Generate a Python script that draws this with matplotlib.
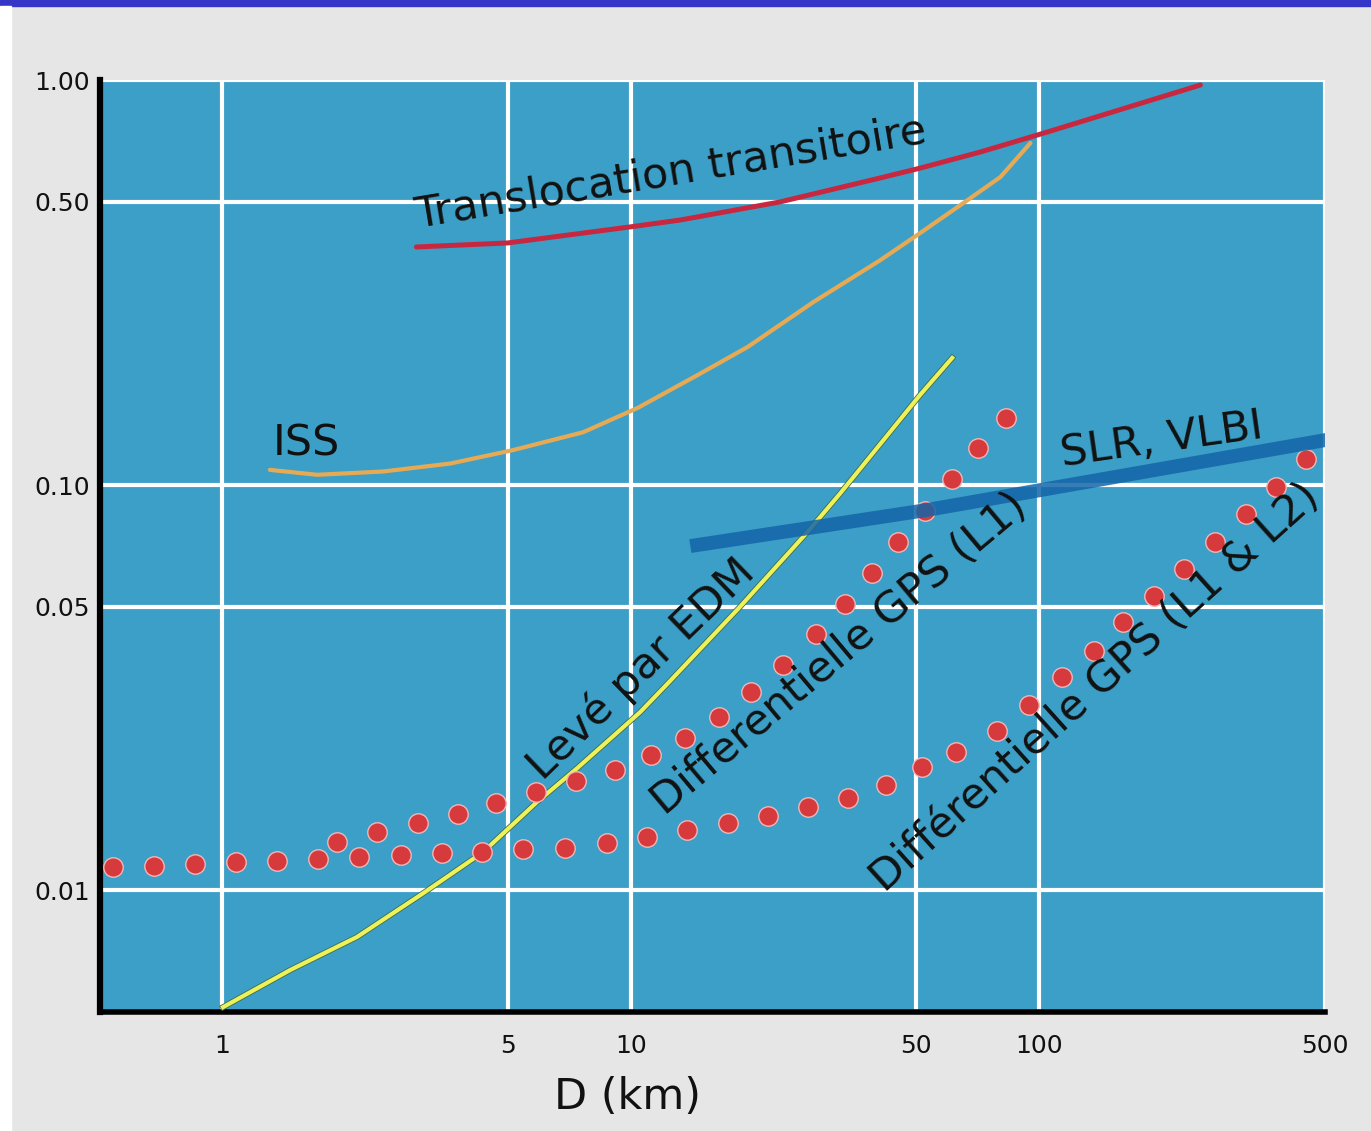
import matplotlib
matplotlib.use("Agg")
import matplotlib.pyplot as plt
import matplotlib.patheffects as pe
from matplotlib.patches import Rectangle
from matplotlib.ticker import FixedLocator, FixedFormatter, NullLocator

# axes ticks
x_ticks = [1, 5, 10, 50, 100, 500]
x_tick_labels = ["1", "5", "10", "50", "100", "500"]
y_ticks = [0.01, 0.05, 0.10, 0.50, 1.00]
y_tick_labels = ["0.01", "0.05", "0.10", "0.50", "1.00"]

# curves (D in km, error in m)
transloc_d = [2.99, 5.0, 10.0, 13.2, 23.2, 40.8, 51.1, 71.7, 104.6, 247.8]
transloc_v = [0.387, 0.396, 0.434, 0.451, 0.500, 0.573, 0.606, 0.664, 0.744, 0.972]

iss_d = [1.31, 1.71, 2.48, 3.62, 5.16, 7.65, 10.4, 14.6, 19.3, 28.0, 40.8, 51.1, 65.2, 80.3, 95.1]
iss_v = [0.109, 0.106, 0.108, 0.113, 0.122, 0.135, 0.155, 0.187, 0.219, 0.283, 0.359, 0.419, 0.497, 0.576, 0.699]

edm_d = [1.006, 1.47, 2.14, 3.11, 4.35, 5.90, 7.40, 10.55, 12.3, 18.5, 27.1, 32.6, 51.1, 61.2]
edm_v = [0.00514, 0.00635, 0.00766, 0.00983, 0.0124, 0.0165, 0.0200, 0.0275, 0.0323, 0.050, 0.0766, 0.0955, 0.167, 0.206]

slr_d = [14.55, 53.2, 498]
slr_v = [0.0711, 0.0868, 0.129]

# differential GPS dots: common flat start, then the two branches
gps_common_d = [0.541, 0.682, 0.859, 1.082, 1.363, 1.718]
gps_common_v = [0.0114, 0.01146, 0.01159, 0.01173, 0.0118, 0.01193]

gps_l1_d = [1.912, 2.395, 3.018, 3.782, 4.686, 5.871, 7.358, 9.165, 11.22, 13.60, 16.47,
            19.72, 23.63, 28.46, 33.50, 39.01, 45.17, 52.60, 61.24, 70.93, 83.05]
gps_l1_v = [0.01314, 0.0139, 0.01463, 0.01541, 0.0164, 0.01746, 0.01858, 0.01978, 0.02154,
            0.02373, 0.02674, 0.03083, 0.03593, 0.04286, 0.05084, 0.06064, 0.07233, 0.08624,
            0.1035, 0.1234, 0.1463]

gps_l1l2_d = [2.165, 2.743, 3.456, 4.329, 5.456, 6.914, 8.761, 10.97, 13.75, 17.33, 21.71,
              27.20, 34.08, 42.22, 51.71, 62.65, 78.94, 94.52, 113.8, 136.3, 160.6, 191.2,
              226.5, 269.7, 321.2, 380.4, 448.1]
gps_l1l2_v = [0.01207, 0.01221, 0.01234, 0.01241, 0.01263, 0.0127, 0.01306, 0.01351, 0.01406,
              0.01463, 0.01524, 0.01603, 0.01688, 0.01817, 0.02012, 0.02191, 0.0247, 0.02862,
              0.03355, 0.03891, 0.04588, 0.05319, 0.06204, 0.07233, 0.0848, 0.09888, 0.1159]

fig = plt.figure(figsize=(13.71, 11.31), dpi=100, facecolor="#e6e6e6")
fig.add_artist(Rectangle((0, 1 - 6 / 1131), 1, 6 / 1131, transform=fig.transFigure,
                         color="#3535c8", zorder=0))
fig.add_artist(Rectangle((0, 0), 11 / 1371, 1 - 6 / 1131, transform=fig.transFigure,
                         color="white", zorder=0))

ax = fig.add_axes([100 / 1371, 1 - 1012 / 1131, 1225 / 1371, 932 / 1131])
ax.set_facecolor("#3c9fc7")
ax.set_xscale("log")
ax.set_yscale("log")
ax.set_xlim(0.503, 500)
ax.set_ylim(0.005, 1.0)

ax.xaxis.set_major_locator(FixedLocator(x_ticks))
ax.xaxis.set_major_formatter(FixedFormatter(x_tick_labels))
ax.xaxis.set_minor_locator(NullLocator())
ax.yaxis.set_major_locator(FixedLocator(y_ticks))
ax.yaxis.set_major_formatter(FixedFormatter(y_tick_labels))
ax.yaxis.set_minor_locator(NullLocator())
ax.tick_params(which="both", length=0, labelsize=18, colors="#111111")
ax.tick_params(axis="x", pad=16)
ax.tick_params(axis="y", pad=7)

ax.set_axisbelow(True)
ax.grid(True, color="white", lw=3)
for s in ["top", "right"]:
    ax.spines[s].set_visible(False)
ax.spines["left"].set_linewidth(4.5)
ax.spines["bottom"].set_linewidth(4)

ax.plot(transloc_d, transloc_v, color="#c8283f", lw=3.6, solid_capstyle="round", zorder=3)
ax.plot(iss_d, iss_v, color="#e6aa55", lw=3, solid_capstyle="round", zorder=3)
ax.plot(edm_d, edm_v, color="#eef25a", lw=3, zorder=3,
        path_effects=[pe.Stroke(linewidth=4.2, foreground="#3d6b50"), pe.Normal()])

dot = dict(ls="none", marker="o", ms=14, color="#d63a3c", mec="#f2b6b6", mew=1, zorder=4)
ax.plot(gps_common_d, gps_common_v, **dot)
ax.plot(gps_l1_d, gps_l1_v, **dot)
ax.plot(gps_l1l2_d, gps_l1l2_v, **dot)

ax.plot(slr_d, slr_v, color="#1565a8", lw=10, alpha=0.85, zorder=5)

lab = dict(fontsize=31, color="#111111", rotation_mode="anchor", ha="center", va="baseline", zorder=6)
ax.text(12.64, 0.5505, "Translocation transitoire", rotation=9.5, **lab)
ax.text(1.333, 0.1186, "ISS", fontsize=31, color="#111111", ha="left", va="baseline")
ax.text(201, 0.1206, "SLR, VLBI", rotation=8, **lab)
ax.text(11.16, 0.0334, "Levé par EDM", rotation=44, **lab)
ax.text(33.9, 0.0363, "Differentielle GPS (L1)", rotation=40, **lab)
ax.text(143.4, 0.0300, "Différentielle GPS (L1 & L2)", rotation=42, **lab)

fig.text(628 / 1371, 1 - 1097 / 1131, "D (km)", fontsize=31, color="#111111",
         ha="center", va="center")

fig.savefig("out.png", dpi=100, facecolor=fig.get_facecolor())
